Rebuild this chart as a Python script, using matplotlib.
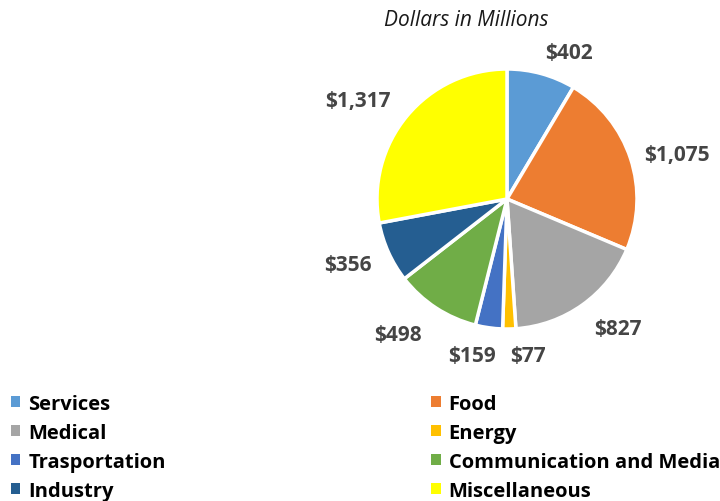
import numpy as np
import matplotlib
matplotlib.use("Agg")
import matplotlib.pyplot as plt
from matplotlib.patches import Patch

categories = ["Services", "Food", "Medical", "Energy", "Trasportation",
              "Communication and Media", "Industry", "Miscellaneous"]
values = [402, 1075, 827, 77, 159, 498, 356, 1317]
value_labels = ["$402", "$1,075", "$827", "$77", "$159", "$498", "$356", "$1,317"]
colors = ["#5B9BD5", "#ED7D31", "#A5A5A5", "#FFC000", "#4472C4",
          "#70AD47", "#255E91", "#FFFF00"]

# label placement styles (radius factor, angle nudge in degrees)
label_r = [1.22, 1.353, 1.315, 1.211, 1.23, 1.335, 1.325, 1.376]
label_nudge = [-7.6, -3.4, 5.0, 6.7, -4.6, -5.8, -1.8, 6.1]

plt.rcParams['font.family'] = ['Open Sans', 'DejaVu Sans']

fig = plt.figure(figsize=(7.2, 5.02), dpi=100)
cx, cy, R = 507 / 720, 1 - 200 / 502, 130
w, h = 2 * R / 720, 2 * R / 502
ax = fig.add_axes([cx - w / 2, cy - h / 2, w, h])
wedges, _ = ax.pie(values, colors=colors, startangle=90, counterclock=False,
                   wedgeprops=dict(edgecolor="white", linewidth=2.5), radius=1.0)
ax.set_xlim(-1, 1)
ax.set_ylim(-1, 1)
ax.set_aspect("equal")
ax.axis("off")

for wdg, lab, r, nd in zip(wedges, value_labels, label_r, label_nudge):
    ang = np.deg2rad((wdg.theta1 + wdg.theta2) / 2 + nd)
    ax.text(r * np.cos(ang), r * np.sin(ang), lab, ha="center", va="center",
            fontsize=15, fontweight="bold", color="#454545", clip_on=False)

fig.text(466 / 720, 1 - 20 / 502, "Dollars in Millions", ha="center", va="center",
         fontsize=15, style="italic", color="#1a1a1a")

handles = [Patch(facecolor=c, edgecolor="none") for c in colors]
order = [0, 2, 4, 6, 1, 3, 5, 7]
fig.legend([handles[i] for i in order], [categories[i] for i in order],
           loc="upper left", bbox_to_anchor=(5 / 720, 1 - 389 / 502),
           ncol=2, frameon=False, prop=dict(size=14.5, weight="bold"),
           handlelength=0.45, handleheight=0.45, handletextpad=0.4,
           columnspacing=13.2, labelspacing=0.44, borderaxespad=0.0, borderpad=0.3)

fig.savefig("out.png", dpi=100, facecolor="white")
